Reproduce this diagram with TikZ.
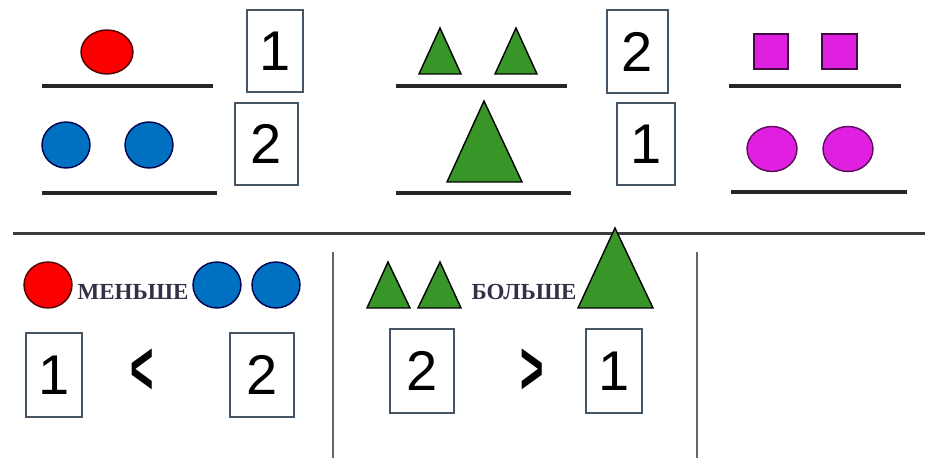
\documentclass[tikz,border=0pt]{standalone}
\usepackage{fontspec}
\setmainfont{Liberation Serif}
\newfontfamily\digitfont{Liberation Sans}
\usepackage{tikz}
\definecolor{redclr}    {RGB}{250,   0,   0}
\definecolor{blueclr}   {RGB}{  0, 112, 192}
\definecolor{greenclr}  {RGB}{ 56, 150,  40}
\definecolor{pinkclr}   {RGB}{224,  32, 224}
\definecolor{darktext}  {RGB}{ 50,  50,  70}
\definecolor{boxclr}    {RGB}{ 70,  85, 100}
\definecolor{lineclr}   {RGB}{ 60,  60,  60}
\tikzset{
  numbox/.style={draw=boxclr, line width=0.8pt, inner sep=0pt,
                 font=\digitfont\fontsize{28}{28}\selectfont},
  word/.style={font=\bfseries\fontsize{11.5}{12}\selectfont, text=darktext, inner sep=0pt},
  relsign/.style={font=\digitfont\bfseries\fontsize{40}{40}\selectfont, inner sep=0pt},
  bar/.style={line width=1.6pt, black!85},
  figure/.style={line width=0.7pt}
}

\begin{document}
\begin{tikzpicture}[x=0.5pt, y=-0.5pt]
  \useasboundingbox (0,0) rectangle (932,458);
  % top left: one red, two blue
  \filldraw[figure, fill=redclr, draw=black!70!red] (107,52) ellipse (26 and 22);
  \draw[bar] (42,86) -- (213,86);
  \filldraw[figure, fill=blueclr, draw=blue!30!black] (66,145) ellipse (24 and 23);
  \filldraw[figure, fill=blueclr, draw=blue!30!black] (149,145) ellipse (24 and 23);
  \draw[bar] (42,193) -- (217,193);
  \node[numbox, minimum width=28pt, minimum height=41pt] (redcount) at (275,51) {1};
  \node[numbox, minimum width=31.5pt, minimum height=41pt] (bluecount) at (266.5,144) {2};
  % top middle: two small triangles, one big
  \filldraw[figure, fill=greenclr, draw=black] (419,74) -- (440,28) -- (461,74) -- cycle;
  \filldraw[figure, fill=greenclr, draw=black] (495,74) -- (516,28) -- (537,74) -- cycle;
  \draw[bar] (396,86) -- (567,86);
  \filldraw[figure, fill=greenclr, draw=black] (447,182) -- (484,101) -- (522,182) -- cycle;
  \draw[bar] (396,193) -- (571,193);
  \node[numbox, minimum width=30.5pt, minimum height=41.5pt] (smallcount) at (637.5,51.5) {2};
  \node[numbox, minimum width=29pt, minimum height=41pt] (bigcount) at (646,144) {1};
  % top right: squares and circles
  \filldraw[figure, fill=pinkclr, draw=black!70!pinkclr] (754,34) rectangle (788,69);
  \filldraw[figure, fill=pinkclr, draw=black!70!pinkclr] (822,34) rectangle (857,69);
  \draw[bar] (729,86) -- (901,86);
  \filldraw[figure, fill=pinkclr, draw=black!60!pinkclr] (772,149) ellipse (25 and 22.5);
  \filldraw[figure, fill=pinkclr, draw=black!60!pinkclr] (848,149) ellipse (25 and 22.5);
  \draw[bar] (731,192) -- (907,192);
  % separators
  \draw[line width=1.5pt, lineclr] (13,234) -- (925,234);
  \draw[line width=1pt, black!60] (333,252) -- (333,458);
  \draw[line width=1pt, black!60] (697,252) -- (697,458);
  % bottom left: less
  \filldraw[figure, fill=redclr, draw=black!70!red] (48,285) ellipse (24 and 23);
  \node[word] (less) at (133,292) {МЕНЬШЕ};
  \filldraw[figure, fill=blueclr, draw=blue!30!black] (217,285) ellipse (24 and 23);
  \filldraw[figure, fill=blueclr, draw=blue!30!black] (276,285) ellipse (24 and 23);
  \node[numbox, minimum width=28pt, minimum height=42pt] (lessleft) at (54,375) {1};
  \node[relsign] (lesssign) at (142,372) {\scalebox{0.5}[0.95]{<}};
  \node[numbox, minimum width=32pt, minimum height=42pt] (lessright) at (262,375) {2};
  % bottom middle: greater
  \filldraw[figure, fill=greenclr, draw=black] (367,308) -- (388,262) -- (410,308) -- cycle;
  \filldraw[figure, fill=greenclr, draw=black] (418,308) -- (440,262) -- (461,308) -- cycle;
  \node[word] (more) at (524,292) {БОЛЬШЕ};
  \filldraw[figure, fill=greenclr, draw=black] (578,308) -- (615,228) -- (653,308) -- cycle;
  \node[numbox, minimum width=32pt, minimum height=42pt] (moreleft) at (422,371) {2};
  \node[relsign] (moresign) at (532,372) {\scalebox{0.5}[0.95]{>}};
  \node[numbox, minimum width=28pt, minimum height=42pt] (moreright) at (614,371) {1};
\end{tikzpicture}
\end{document}
